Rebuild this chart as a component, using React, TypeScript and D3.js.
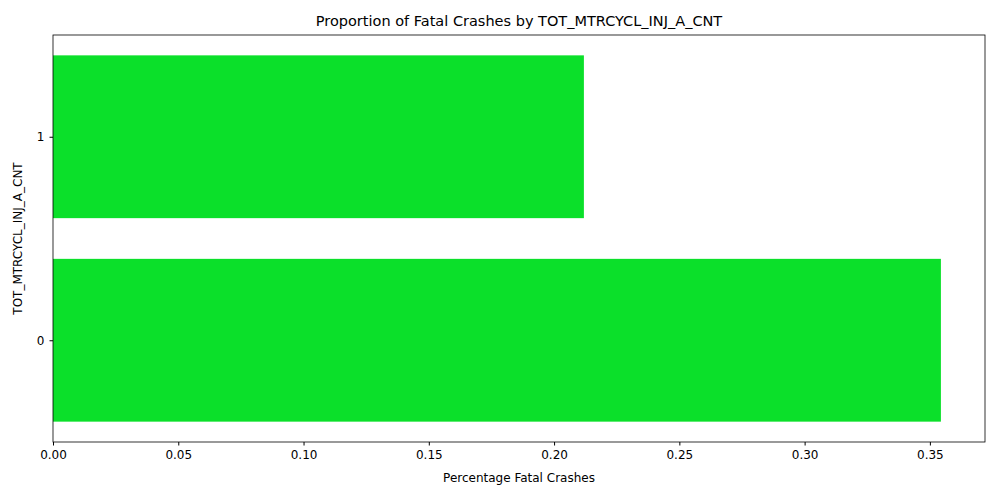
import React, { useEffect, useRef } from "react";
import * as d3 from "d3";

const categories = ["0", "1"];
const values = [0.3544, 0.2119];
const xTicks = [0, 0.05, 0.1, 0.15, 0.2, 0.25, 0.3, 0.35];

const W = 1000;
const H = 500;
const margin = { top: 35, right: 15, bottom: 58, left: 53 };

const App: React.FC = () => {
  const ref = useRef<SVGSVGElement | null>(null);

  useEffect(() => {
    if (!ref.current) return;
    const svg = d3.select(ref.current);
    svg.selectAll("*").remove();
    const iw = W - margin.left - margin.right;
    const ih = H - margin.top - margin.bottom;
    const g = svg.append("g").attr("transform", `translate(${margin.left},${margin.top})`);

    const x = d3.scaleLinear().domain([0, 0.372]).range([0, iw]);
    const y = d3.scaleLinear().domain([-0.5, 1.5]).range([ih, 0]);
    const font = "DejaVu Sans, sans-serif";

    g.selectAll("rect.bar")
      .data(values)
      .enter()
      .append("rect")
      .attr("class", "bar")
      .attr("x", x(0))
      .attr("y", (_d, i) => y(i + 0.4))
      .attr("width", (d) => x(d) - x(0))
      .attr("height", y(-0.4) - y(0.4))
      .attr("fill", "#0be02a");

    const xAxis = g
      .append("g")
      .attr("transform", `translate(0,${ih})`)
      .call(d3.axisBottom(x).tickValues(xTicks).tickFormat(d3.format(".2f")).tickSizeOuter(0).tickSize(3.5).tickPadding(5));
    const yAxis = g
      .append("g")
      .call(d3.axisLeft(y).tickValues([0, 1]).tickFormat((d) => categories[+d]).tickSizeOuter(0).tickSize(3.5).tickPadding(5));
    [xAxis, yAxis].forEach((a) => {
      a.select(".domain").remove();
      a.selectAll("text").style("font-family", font).style("font-size", "12px").attr("fill", "#000");
      a.selectAll("line").attr("stroke", "#000");
    });

    g.append("rect")
      .attr("width", iw)
      .attr("height", ih)
      .attr("fill", "none")
      .attr("stroke", "#000")
      .attr("stroke-width", 0.8);

    g.append("text")
      .attr("x", iw / 2)
      .attr("y", ih + 40)
      .attr("text-anchor", "middle")
      .style("font-family", font)
      .style("font-size", "12px")
      .text("Percentage Fatal Crashes");

    g.append("text")
      .attr("transform", `translate(${-31},${ih / 2}) rotate(-90)`)
      .attr("text-anchor", "middle")
      .style("font-family", font)
      .style("font-size", "12px")
      .text("TOT_MTRCYCL_INJ_A_CNT");

    g.append("text")
      .attr("x", iw / 2)
      .attr("y", -9)
      .attr("text-anchor", "middle")
      .style("font-family", font)
      .style("font-size", "14.5px")
      .text("Proportion of Fatal Crashes by TOT_MTRCYCL_INJ_A_CNT");
  }, []);

  return <svg ref={ref} width={W} height={H} style={{ display: "block", margin: -8 }} />;
};

export default App;
